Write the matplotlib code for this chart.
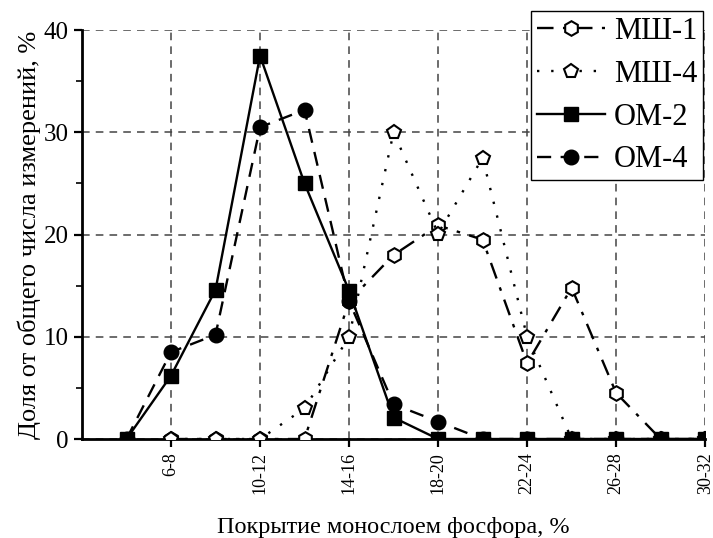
import numpy as np
import matplotlib.pyplot as plt

plt.rcParams['font.family'] = ['Liberation Serif', 'DejaVu Serif']

# interval labels along x (every category has a position, every second one is labelled)
intervals = ['2-4', '4-6', '6-8', '8-10', '10-12', '12-14', '14-16', '16-18',
             '18-20', '20-22', '22-24', '24-26', '26-28', '28-30', '30-32']

# share of measurements, %, from '6-8' on for МШ and from '4-6' on for ОМ
msh1 = [0, 0, 0, 0, 13.5, 18.0, 20.9, 19.5, 7.4, 14.8, 4.5, 0, 0]
msh4 = [0, 0, 0, 3.0, 10.0, 30.0, 20.1, 27.5, 10.0, 0, 0, 0, 0]
om2 = [0, 6.2, 14.6, 37.5, 25.0, 14.5, 2.1, 0, 0, 0, 0, 0, 0, 0]
om4 = [0, 8.5, 10.2, 30.5, 32.2, 13.5, 3.4, 1.7, 0, 0, 0, 0, 0, 0]

x_all = np.arange(len(intervals))
x_msh = x_all[2:]
x_om = x_all[1:]

fig = plt.figure(figsize=(7.13, 5.38), dpi=100)
ax = fig.add_axes([0.115, 0.184, 0.874, 0.760])

lw = 1.7
ms = 10.5
ax.plot(x_msh, msh1, color='black', lw=lw, ls=(0, (7, 4, 1.5, 4)), marker='h',
        ms=ms, mfc='white', mec='black', mew=1.5, label='МШ-1', zorder=3)
ax.plot(x_msh, msh4, color='black', lw=lw, ls=(0, (1, 5)), marker='p',
        ms=ms, mfc='white', mec='black', mew=1.5, label='МШ-4', zorder=3)
ax.plot(x_om, om2, color='black', lw=lw, ls='-', marker='s',
        ms=ms - 1, mfc='black', mec='black', label='ОМ-2', zorder=4)
ax.plot(x_om, om4, color='black', lw=lw, ls=(0, (6, 4)), marker='o',
        ms=ms, mfc='black', mec='black', label='ОМ-4', zorder=4)

ax.set_xlim(0, 14)
ax.set_ylim(0, 40)
ax.set_xticks(x_all[2::2])
ax.set_xticklabels(intervals[2::2], rotation=90, fontsize=13)
ax.set_yticks([0, 10, 20, 30, 40])
ax.set_yticks([5, 15, 25, 35], minor=True)
ax.tick_params(axis='y', labelsize=18, width=1.6, length=6, direction='out')
ax.tick_params(axis='y', which='minor', width=1.2, length=4)
ax.tick_params(axis='x', width=1.6, length=6, direction='out')

ax.grid(True, color='#444444', ls=(0, (5, 4)), lw=1.1)
ax.set_axisbelow(True)

for side in ['top', 'right']:
    ax.spines[side].set_visible(False)
for side in ['left', 'bottom']:
    ax.spines[side].set_linewidth(2)

ax.set_xlabel('Покрытие монослоем фосфора, %', fontsize=17.5, labelpad=16)
ax.set_ylabel('Доля от общего числа измерений, %', fontsize=19, labelpad=2)

leg = ax.legend(loc='upper right', bbox_to_anchor=(0.997, 1.047), fontsize=22,
                handlelength=2.2, handletextpad=0.3, borderpad=0.2,
                labelspacing=0.45, fancybox=False, framealpha=1,
                edgecolor='black', borderaxespad=0)
leg.get_frame().set_linewidth(1)

fig.savefig('out.png', dpi=100)
